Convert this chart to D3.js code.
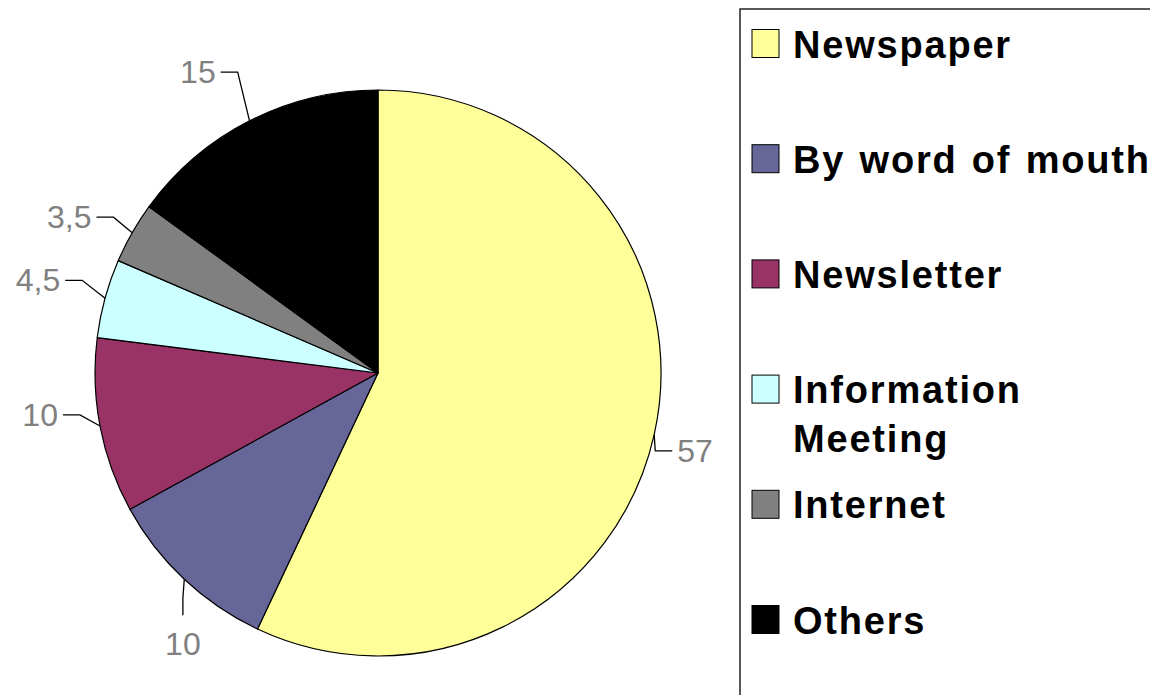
<!DOCTYPE html>
<html>
<head>
<meta charset="utf-8">
<script src="https://cdn.jsdelivr.net/npm/d3@7"></script>
<style>
  html, body { margin: 0; padding: 0; background: #fff; overflow: hidden; }
  svg { display: block; }
</style>
</head>
<body>
<svg id="chart" width="1150" height="695"></svg>
<script>
// ---- data ----
const categories = ["Newspaper", "By word of mouth", "Newsletter", "Information Meeting", "Internet", "Others"];
const legendLines = [["Newspaper"], ["By word of mouth"], ["Newsletter"], ["Information", "Meeting"], ["Internet"], ["Others"]];
const values = [57, 10, 10, 4.5, 3.5, 15];
const colors = ["#FFFF99", "#666699", "#993366", "#CCFFFF", "#808080", "#000000"];
// label layout: extra radial distance / angular turn (degrees) of each leader elbow
const leaderPush = [5, 15, 18, 27, 24, 49];
const leaderTurn = [3.1, -2.3, 2.8, 2.1, 0.8, 2.0];

// ---- layout ----
const W = 1150, H = 695;
const cx = 378, cy = 373, R = 283;
const svg = d3.select("#chart");
svg.append("rect").attr("width", W).attr("height", H).attr("fill", "#fff");

const pie = d3.pie().sort(null).value(d => d)(values);
const arc = d3.arc().innerRadius(0).outerRadius(R);

const g = svg.append("g").attr("transform", `translate(${cx},${cy})`);
g.selectAll("path.slice")
  .data(pie)
  .join("path")
  .attr("class", "slice")
  .attr("d", arc)
  .attr("fill", (d, i) => colors[i])
  .attr("stroke", "#000")
  .attr("stroke-width", 1.2)
  .attr("stroke-linejoin", "round");

const fmt = v => String(v).replace(".", ",");
const polar = (a, r) => [r * Math.sin(a), -r * Math.cos(a)];

const labels = g.append("g");
pie.forEach((d, i) => {
  const mid = (d.startAngle + d.endAngle) / 2;
  const anchor = polar(mid, R);
  const elbow = polar(mid + leaderTurn[i] * Math.PI / 180, R + leaderPush[i]);
  const deg = mid * 180 / Math.PI;
  const tail = 17, gap = 5;
  let end, tx, ty, anchorText, baseline = "central";
  if (deg > 135 && deg < 225) {
    // bottom: vertical tail, text below
    end = [elbow[0], elbow[1] + tail];
    tx = end[0]; ty = end[1] + 40; anchorText = "middle"; baseline = "auto";
  } else if (Math.sin(mid) >= 0) {
    end = [elbow[0] + tail, elbow[1]];
    tx = end[0] + gap; ty = end[1]; anchorText = "start";
  } else {
    end = [elbow[0] - tail, elbow[1]];
    tx = end[0] - gap; ty = end[1]; anchorText = "end";
  }
  labels.append("path")
    .attr("d", d3.line()([anchor, elbow, end]))
    .attr("fill", "none")
    .attr("stroke", "#000")
    .attr("stroke-width", 1.3);
  labels.append("text")
    .attr("x", tx).attr("y", ty)
    .attr("text-anchor", anchorText)
    .attr("dominant-baseline", baseline)
    .attr("font-family", "Liberation Sans, Arial, sans-serif")
    .attr("font-size", 32)
    .attr("fill", "#808080")
    .text(fmt(values[i]));
});

// ---- legend ----
const lgX = 740, lgY = 9;
svg.append("rect")
  .attr("x", lgX).attr("y", lgY)
  .attr("width", 500).attr("height", 800)
  .attr("fill", "none")
  .attr("stroke", "#222")
  .attr("stroke-width", 1.5);

const rowStep = 115.2, base0 = 57.5;
const lg = svg.append("g");
categories.forEach((c, i) => {
  const by = base0 + i * rowStep;
  lg.append("rect")
    .attr("x", 752).attr("y", by - 28)
    .attr("width", 27).attr("height", 28)
    .attr("fill", colors[i])
    .attr("stroke", "#000")
    .attr("stroke-width", 1);
  const t = lg.append("text")
    .attr("x", 793).attr("y", by)
    .attr("font-family", "Liberation Sans, Arial, sans-serif")
    .attr("font-weight", "bold")
    .attr("font-size", 38)
    .attr("letter-spacing", 1.8)
    .attr("word-spacing", 2)
    .attr("fill", "#000");
  legendLines[i].forEach((ln, j) => {
    t.append("tspan").attr("x", 793).attr("dy", j === 0 ? 0 : 49).text(ln);
  });
});
</script>
</body>
</html>
